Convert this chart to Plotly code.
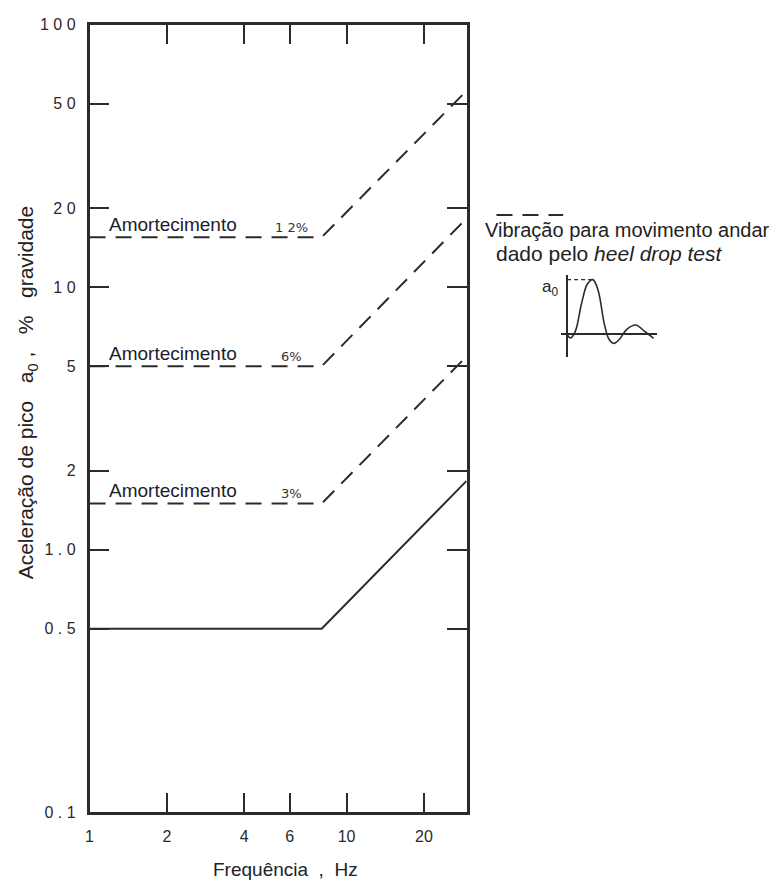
import math
import plotly.graph_objects as go

# ---- data ----
freq_solid = [1, 8, 29.3]
acc_solid = [0.5, 0.5, 1.83]
freq_dash = [1, 8, 29.3]
acc_3pct = [1.5, 1.5, 5.45]
acc_6pct = [5, 5, 18.3]
acc_12pct = [15.5, 15.5, 56]
damping_labels = ["1 2%", "6%", "3%"]
damping_levels = [15.5, 5, 1.5]

x_tickvals = [1, 2, 4, 6, 10, 20]
x_ticktext = ["1", "2", "4", "6", "10", "20"]
y_tickvals = [0.1, 0.5, 1, 2, 5, 10, 20, 50, 100]
y_ticktext = ["0 . 1", "0 . 5", "1 . 0", "2", "5", "1 0", "2 0", "5 0", "1 0 0"]

# inset sketch (heel drop response), arbitrary units
wave_t = [0, 0.15, 0.35, 0.6, 0.85, 1.08, 1.3, 1.55, 1.75, 1.96, 2.2, 2.5, 2.875, 3.25, 3.625]
wave_a = [-0.02, -0.08, 0.05, 0.55, 0.92, 1.0, 0.8, 0.2, -0.1, -0.18, -0.1, 0.08, 0.16, 0.04, -0.09]
peak_t = [0, 1.0]
peak_a = [1.0, 1.0]

W, H = 782, 886
L, R, T, B = 86, 465, 17, 820
ink = "#2b2b2b"
NB = "\u00a0"

fig = go.Figure()
line_style = dict(color=ink, width=2)
dash_style = dict(color=ink, width=2, dash="16px,10px")

fig.add_trace(go.Scatter(x=freq_solid, y=acc_solid, mode="lines", line=line_style,
                         showlegend=False, hoverinfo="skip"))
for acc in (acc_3pct, acc_6pct, acc_12pct):
    fig.add_trace(go.Scatter(x=freq_dash, y=acc, mode="lines", line=dash_style,
                             showlegend=False, hoverinfo="skip"))

# inset
fig.add_trace(go.Scatter(x=wave_t, y=wave_a, mode="lines", line=dict(color=ink, width=1.6, shape="spline"),
                         xaxis="x2", yaxis="y2", showlegend=False, hoverinfo="skip"))
fig.add_trace(go.Scatter(x=peak_t, y=peak_a, mode="lines", line=dict(color=ink, width=1.2, dash="4px,3px"),
                         xaxis="x2", yaxis="y2", showlegend=False, hoverinfo="skip"))

axis_common = dict(showgrid=False, zeroline=False, showline=True, linecolor=ink, linewidth=2.5,
                   mirror="allticks", ticks="inside", ticklen=20, tickwidth=1.5, tickcolor=ink,
                   tickfont=dict(family="Liberation Sans", size=16, color="#2a2a2a"))

fig.update_layout(
    width=W, height=H,
    margin=dict(l=0, r=0, t=0, b=0),
    paper_bgcolor="white", plot_bgcolor="white",
    xaxis=dict(type="log", range=[0, 1.4669], domain=[L / W, R / W],
               tickvals=x_tickvals, ticktext=x_ticktext, ticklabelstandoff=8, **axis_common),
    yaxis=dict(type="log", range=[-1, 2], domain=[1 - B / H, 1 - T / H],
               tickvals=y_tickvals, ticktext=y_ticktext, ticklabelstandoff=8, **axis_common),
    xaxis2=dict(domain=[560 / W, 656 / W], range=[-0.25, 3.75], showgrid=False, showline=False,
                showticklabels=False, ticks="", zeroline=True, zerolinecolor=ink, zerolinewidth=1.5,
                anchor="y2"),
    yaxis2=dict(domain=[1 - 356 / H, 1 - 272 / H], range=[-0.436, 1.09], showgrid=False, showline=False,
                showticklabels=False, ticks="", zeroline=True, zerolinecolor=ink, zerolinewidth=1.5,
                anchor="x2"),
)

annos = []
for lab, lev in zip(damping_labels, damping_levels):
    annos.append(dict(x=0.066, y=math.log10(lev), xref="x", yref="y", xanchor="left", yanchor="middle",
                      yshift=13, text="Amortecimento", showarrow=False,
                      font=dict(family="Liberation Sans", size=19, color="#1c1c2e")))
    annos.append(dict(x=0.787, y=math.log10(lev), xref="x", yref="y", xanchor="center", yanchor="middle",
                      yshift=10, text=lab, showarrow=False,
                      font=dict(family="DejaVu Sans", size=13, color="#333")))

# axis titles
annos.append(dict(x=283 / W, y=1 - 878 / H, xref="paper", yref="paper", xanchor="center", yanchor="middle",
                  text="Frequência" + NB + " ," + NB + " Hz", showarrow=False,
                  font=dict(family="Liberation Sans", size=19, color="#222")))
ytitle = ("Aceleração" + NB + "de" + NB + "pico" + NB * 3 + "a<sub>0</sub>" + NB + "," + NB * 3 + "%"
          + NB * 3 + "gravidade")
annos.append(dict(x=24 / W, y=1 - 392 / H, xref="paper", yref="paper", xanchor="center", yanchor="middle",
                  textangle=-90, text=ytitle, showarrow=False,
                  font=dict(family="Liberation Sans", size=21, color="#222")))

# legend text
annos.append(dict(x=482 / W, y=1 - 226 / H, xref="paper", yref="paper", xanchor="left", yanchor="middle",
                  text="Vibração para movimento andar", showarrow=False, borderpad=0,
                  font=dict(family="Liberation Sans", size=20, color="#222")))
annos.append(dict(x=494 / W, y=1 - 250 / H, xref="paper", yref="paper", xanchor="left", yanchor="middle",
                  text="dado pelo <i>heel drop test</i>", showarrow=False, borderpad=0,
                  font=dict(family="Liberation Sans", size=21, color="#222")))
annos.append(dict(x=549 / W, y=1 - 285 / H, xref="paper", yref="paper", xanchor="center", yanchor="middle",
                  text="a<sub>0</sub>", showarrow=False,
                  font=dict(family="Liberation Sans", size=17, color="#222")))

fig.update_layout(annotations=annos)

fig.add_shape(type="line", xref="paper", yref="paper", x0=495 / W, x1=562 / W, y0=1 - 211 / H, y1=1 - 211 / H,
              line=dict(color=ink, width=2, dash="16px,10px"))

fig.write_html("out.html")
